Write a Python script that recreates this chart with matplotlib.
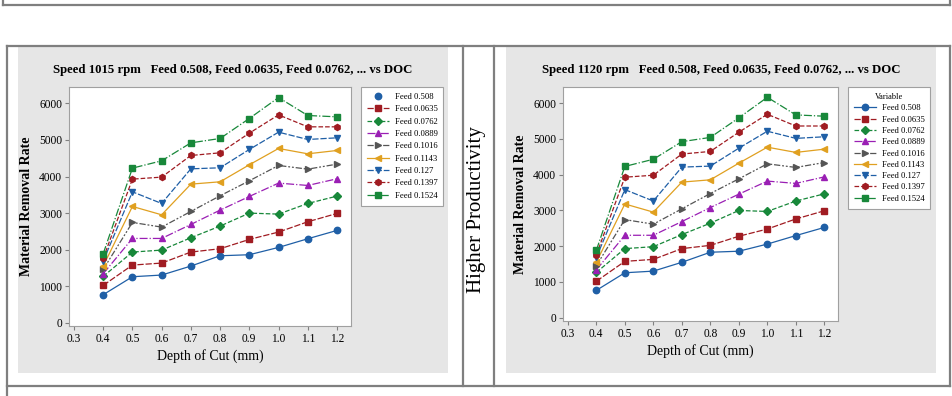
import matplotlib
matplotlib.use('Agg')
import matplotlib.pyplot as plt
from matplotlib.lines import Line2D
from matplotlib.patches import Rectangle

plt.rcParams['font.family'] = ['Liberation Serif', 'DejaVu Serif']

W, H = 953, 396

# data
doc = [0.4, 0.5, 0.6, 0.7, 0.8, 0.9, 1.0, 1.1, 1.2]
feeds = ['Feed 0.508', 'Feed 0.0635', 'Feed 0.0762', 'Feed 0.0889', 'Feed 0.1016',
         'Feed 0.1143', 'Feed 0.127', 'Feed 0.1397', 'Feed 0.1524']
mrr_0508 = [766, 1258, 1304, 1550, 1832, 1860, 2060, 2297, 2525]
mrr_0635 = [1021, 1577, 1632, 1933, 2024, 2279, 2480, 2762, 2990]
mrr_0762 = [1267, 1933, 1987, 2325, 2644, 2999, 2972, 3263, 3464]
mrr_0889 = [1340, 2306, 2306, 2689, 3081, 3455, 3820, 3756, 3938]
mrr_1016 = [1458, 2744, 2616, 3045, 3473, 3883, 4303, 4202, 4339]
mrr_1143 = [1550, 3181, 2953, 3792, 3856, 4321, 4768, 4622, 4713]
mrr_127 = [1686, 3582, 3263, 4211, 4239, 4740, 5214, 5014, 5059]
mrr_1397 = [1759, 3929, 3984, 4576, 4649, 5187, 5688, 5360, 5360]
mrr_1524 = [1887, 4230, 4430, 4922, 5041, 5588, 6162, 5670, 5634]
series = [mrr_0508, mrr_0635, mrr_0762, mrr_0889, mrr_1016,
          mrr_1143, mrr_127, mrr_1397, mrr_1524]
speeds = ['1015', '1120']
y_ticks = [0, 1000, 2000, 3000, 4000, 5000, 6000]
x_ticks = [0.3, 0.4, 0.5, 0.6, 0.7, 0.8, 0.9, 1.0, 1.1, 1.2]

colors = ['#1f5fa6', '#a01c22', '#18883a', '#9a1fb4', '#555555',
          '#e0a020', '#1f5fa6', '#a01c22', '#18883a']
markers = ['o', 's', 'D', '^', '>', '<', 'v', 'h', 's']
msizes = [4.6, 4.6, 3.8, 4.6, 4.6, 4.6, 4.6, 4.4, 4.6]
styles = ['-', (0, (5, 1.5)), '--', '-.', (0, (5, 1.5, 1.5, 1.5, 1.5, 1.5)),
          '-', (0, (5, 1.5)), '--', '-.']


def box(x0, y0, x1, y1):
    return [x0 / W, 1 - y1 / H, (x1 - x0) / W, (y1 - y0) / H]


def hline(y, x0, x1):
    fig.add_artist(Line2D([x0 / W, x1 / W], [1 - y / H, 1 - y / H],
                          color='#7f7f7f', lw=1.6))


def vline(x, y0, y1):
    fig.add_artist(Line2D([x / W, x / W], [1 - y0 / H, 1 - y1 / H],
                          color='#7f7f7f', lw=1.6))


fig = plt.figure(figsize=(W / 100, H / 100), dpi=100)

# table frame
hline(5, 3, 950)
vline(3, 0, 5)
vline(950, 0, 5)
hline(46, 7, 950)
hline(386, 7, 950)
vline(7, 46, 396)
vline(950, 46, 386)
vline(463, 46, 386)
vline(494, 46, 386)

fig.text(477 / W, 1 - 210 / H, 'Higher Productivity', rotation=90,
         ha='center', va='center', fontsize=15)

panels = [
    dict(bg=(18, 47, 448, 373), ax=(69, 87, 351, 326), leg=(361, 87), title_x=233, legtitle=None),
    dict(bg=(506, 47, 936, 373), ax=(563, 87, 838, 321), leg=(848, 87), title_x=721, legtitle='Variable'),
]

for speed, p in zip(speeds, panels):
    x0, y0, x1, y1 = p['bg']
    fig.add_artist(Rectangle((x0 / W, 1 - y1 / H), (x1 - x0) / W, (y1 - y0) / H,
                             transform=fig.transFigure, facecolor='#e6e6e6',
                             edgecolor='none', zorder=-1))
    ax = fig.add_axes(box(*p['ax']))
    for name, vals, c, m, ms, ls in zip(feeds, series, colors, markers, msizes, styles):
        ax.plot(doc, vals, color=c, marker=m, ls=ls, lw=0.9, ms=ms, label=name)
    ax.set_xlim(0.283, 1.248)
    ax.set_ylim(-90, 6450)
    ax.set_xticks(x_ticks)
    ax.set_xticklabels([f'{t:.1f}' for t in x_ticks])
    ax.set_yticks(y_ticks)
    ax.tick_params(labelsize=8.3, length=3, color='#808080', pad=2)
    for s in ax.spines.values():
        s.set_color('#a0a0a0')
        s.set_linewidth(0.8)
    ax.set_xlabel('Depth of Cut (mm)', fontsize=10, labelpad=3)
    ax.set_ylabel('Material Removal Rate', fontsize=10, fontweight='bold', labelpad=4)
    fig.text(p['title_x'] / W, 1 - 70 / H,
             f'Speed {speed} rpm   Feed 0.508, Feed 0.0635, Feed 0.0762, ... vs DOC',
             ha='center', va='center', fontsize=9.2, fontweight='bold')
    lx, ly = p['leg']
    leg = ax.legend(loc='upper left', bbox_to_anchor=(lx / W, 1 - ly / H),
                    bbox_transform=fig.transFigure, fontsize=6.2,
                    title=p['legtitle'], title_fontsize=6, fancybox=False,
                    edgecolor='#a0a0a0', framealpha=1, handlelength=2.6,
                    labelspacing=0.5 if p['legtitle'] is None else 0.38,
                    borderpad=0.7, handletextpad=0.6, borderaxespad=0)
    leg.get_frame().set_linewidth(0.8)
    if p['legtitle'] is None:
        leg.get_lines()[0].set_linestyle('None')

fig.savefig('out.png', dpi=100)
